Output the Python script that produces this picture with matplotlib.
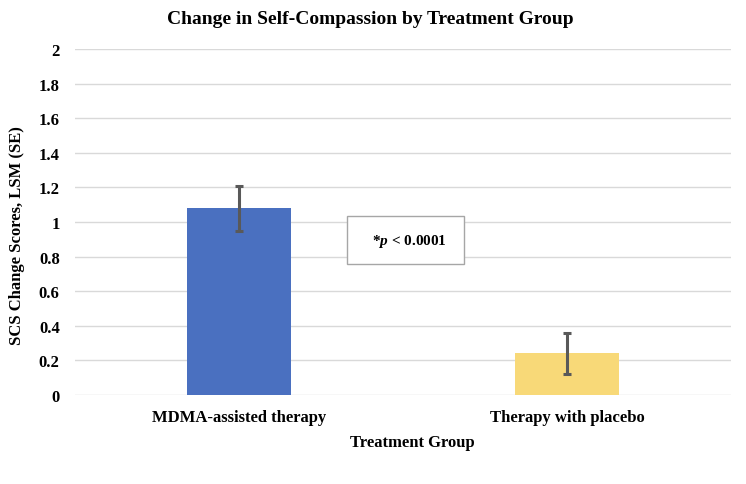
import matplotlib
matplotlib.use("Agg")
import matplotlib.pyplot as plt
from matplotlib.patches import Rectangle

categories = ["MDMA-assisted therapy", "Therapy with placebo"]
values = [1.08, 0.24]
errors = [0.13, 0.12]
colors = ["#4A70C0", "#F8D978"]
yticks = [0, 0.2, 0.4, 0.6, 0.8, 1, 1.2, 1.4, 1.6, 1.8, 2]
ytick_labels = ["0", "0.2", "0.4", "0.6", "0.8", "1", "1.2", "1.4", "1.6", "1.8", "2"]

plt.rcParams['font.family'] = ['Liberation Serif', 'DejaVu Serif']
plt.rcParams['font.weight'] = 'bold'
plt.rcParams['mathtext.fontset'] = 'custom'
plt.rcParams['mathtext.rm'] = 'Liberation Serif:bold'
plt.rcParams['mathtext.it'] = 'Liberation Serif:bold:italic'

fig = plt.figure(figsize=(7.46, 4.85), dpi=100)
ax = fig.add_axes([75/746, 89/485, 656/746, 346/485])

x = [0, 1]
ax.bar(x, values, width=0.317, color=colors, zorder=2)
ax.errorbar(x, values, yerr=errors, fmt='none', ecolor='#595959',
            elinewidth=2.2, capsize=2.8, capthick=2.2, zorder=3)

ax.set_xlim(-0.5, 1.5)
ax.set_ylim(0, 2)
ax.set_yticks(yticks)
ax.set_yticklabels(ytick_labels, fontsize=12, fontweight='bold')
ax.set_xticks(x)
ax.set_xticklabels(categories, fontsize=12, fontweight='bold')
ax.tick_params(axis='y', length=0, pad=11)
ax.tick_params(axis='x', length=0, pad=10)
ax.grid(axis='y', color='#D9D9D9', linewidth=1, zorder=0)
ax.set_axisbelow(True)
for s in ax.spines.values():
    s.set_visible(False)

fig.text(412/746, 1 - 443/485, "Treatment Group", ha='center', va='center',
         fontsize=12, fontweight='bold')
fig.text(17/746, 1 - 236/485, "SCS Change Scores, LSM (SE)", ha='center', va='center',
         rotation=90, fontsize=12, fontweight='bold')
fig.text(370/746, 1 - 20/485, "Change in Self-Compassion by Treatment Group",
         ha='center', va='center', fontsize=14, fontweight='bold')

rect = Rectangle((272/656, (396-265)/346), 117/656, 48/346, transform=ax.transAxes,
                 facecolor='white', edgecolor='#A6A6A6', linewidth=1, zorder=4)
ax.add_patch(rect)
ax.text((409-75)/656, (396-241)/346, r"*$\mathit{p}$ < 0.0001", transform=ax.transAxes,
        ha='center', va='center', fontsize=11, fontweight='bold', zorder=5)

fig.savefig("out.png", dpi=100)
